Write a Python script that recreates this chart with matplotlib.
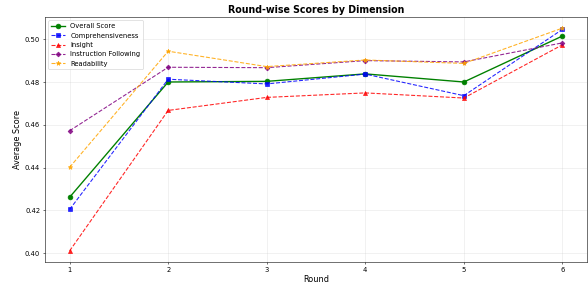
import matplotlib
matplotlib.use("Agg")
import matplotlib.pyplot as plt

rounds = [1, 2, 3, 4, 5, 6]
overall = [0.4262, 0.4801, 0.4804, 0.4839, 0.4801, 0.5016]
comprehensiveness = [0.4205, 0.4814, 0.4792, 0.4838, 0.4737, 0.5047]
insight = [0.4011, 0.4668, 0.4729, 0.4750, 0.4726, 0.4975]
instruction_following = [0.4573, 0.4870, 0.4868, 0.4901, 0.4895, 0.4984]
readability = [0.4402, 0.4945, 0.4873, 0.4904, 0.4888, 0.5053]

# 588x288 px at 49 dpi
fig, ax = plt.subplots(figsize=(12, 288 / 49), dpi=49)

ax.plot(rounds, overall, "o-", color="green", linewidth=2, markersize=7, label="Overall Score")
ax.plot(rounds, comprehensiveness, "s--", color="blue", linewidth=1.6, markersize=6, alpha=0.85,
        label="Comprehensiveness")
ax.plot(rounds, insight, "^--", color="red", linewidth=1.6, markersize=6, alpha=0.85, label="Insight")
ax.plot(rounds, instruction_following, "D--", color="purple", linewidth=1.6, markersize=5, alpha=0.85,
        label="Instruction Following")
ax.plot(rounds, readability, "*--", color="orange", linewidth=1.6, markersize=7, alpha=0.85,
        label="Readability")

ax.set_title("Round-wise Scores by Dimension", fontsize=14, fontweight="bold")
ax.set_xlabel("Round", fontsize=12)
ax.set_ylabel("Average Score", fontsize=12)
ax.set_xticks(rounds)
ax.grid(True, alpha=0.3)
ax.legend(loc="upper left", fontsize=10)

fig.subplots_adjust(left=45 / 588, right=587 / 588, top=1 - 17 / 288, bottom=1 - 262 / 288)
plt.savefig("out.png", dpi=49)
